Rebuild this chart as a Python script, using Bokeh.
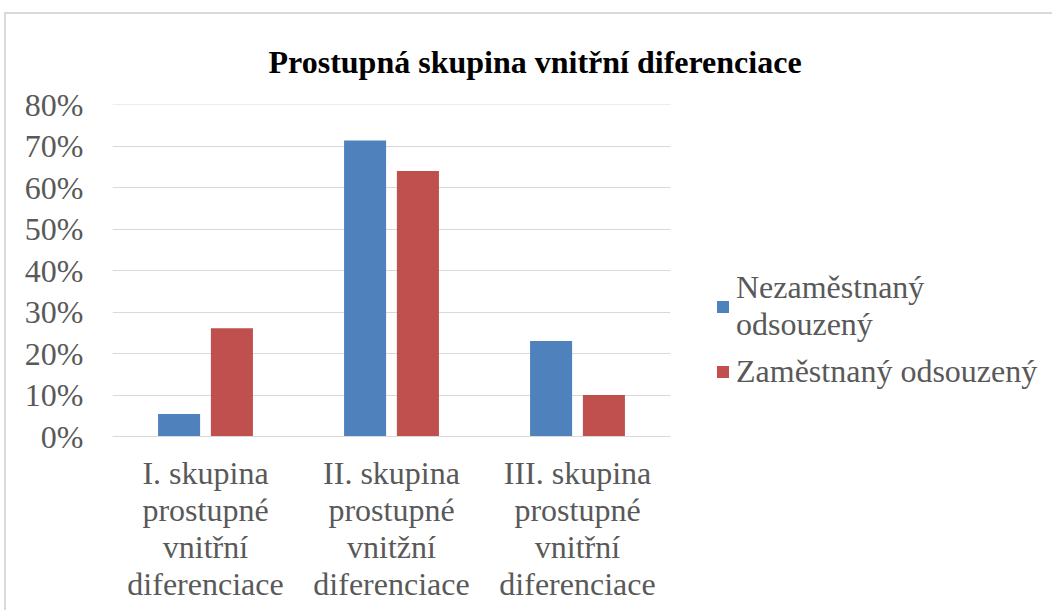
from bokeh.plotting import figure
from bokeh.models import ColumnDataSource, FactorRange, Range1d, NumeralTickFormatter, Legend, LegendItem, Title, FixedTicker
from bokeh.transform import dodge
from bokeh.embed import file_html
from bokeh.resources import INLINE

categories = [
    "I. skupina\nprostupné\nvnitřní\ndiferenciace",
    "II. skupina\nprostupné\nvnitžní\ndiferenciace",
    "III. skupina\nprostupné\nvnitřní\ndiferenciace",
]
series_names = ["Nezaměstnaný\nodsouzený", "Zaměstnaný odsouzený"]
nezamestnany = [0.054, 0.714, 0.230]
zamestnany = [0.261, 0.640, 0.100]
y_ticks = [0.0, 0.1, 0.2, 0.3, 0.4, 0.5, 0.6, 0.7, 0.8]
title_text = "Prostupná skupina vnitřní diferenciace"

FONT = "Liberation Serif"
GRAY = "#595959"
BLUE = "#4f81bd"
RED = "#c0504d"

src = ColumnDataSource(dict(cat=categories, a=nezamestnany, b=zamestnany))

p = figure(
    x_range=FactorRange(*categories, range_padding=0),
    y_range=Range1d(0, 0.8005),
    frame_width=558, frame_height=332,
    output_backend="svg", toolbar_location=None,
    min_border_left=106, min_border_right=382, min_border_top=90, min_border_bottom=174,
)
p.outline_line_color = None
p.styles = {"margin-left": "4px", "margin-top": "12px",
            "border-left": "2px solid #d9d9d9", "border-top": "2px solid #d9d9d9"}

t = Title(text=title_text, align="left", text_font=FONT, text_font_size="32px",
          text_font_style="bold", text_color="#000000", offset=156, standoff=50)
p.add_layout(t, "above")

r1 = p.vbar(x=dodge("cat", -0.142, range=p.x_range), top="a", width=0.226, source=src,
            fill_color=BLUE, line_color=None)
r2 = p.vbar(x=dodge("cat", 0.142, range=p.x_range), top="b", width=0.226, source=src,
            fill_color=RED, line_color=None)

p.yaxis.ticker = FixedTicker(ticks=y_ticks)
p.yaxis.formatter = NumeralTickFormatter(format="0%")
p.yaxis.axis_line_color = None
p.yaxis.major_tick_line_color = None
p.yaxis.minor_tick_line_color = None
p.yaxis.major_label_text_font = FONT
p.yaxis.major_label_text_font_size = "32px"
p.yaxis.major_label_text_color = GRAY
p.yaxis.major_label_standoff = 23

p.xaxis.axis_line_color = "#d9d9d9"
p.xaxis.major_tick_line_color = None
p.xaxis.minor_tick_line_color = None
p.xaxis.major_label_text_font = FONT
p.xaxis.major_label_text_font_size = "32px"
p.xaxis.major_label_text_line_height = 1.03
p.xaxis.major_label_text_color = GRAY
p.xaxis.major_label_standoff = 12
p.xaxis.major_label_orientation = "horizontal"

p.xgrid.grid_line_color = None
p.ygrid.grid_line_color = "#d9d9d9"
p.ygrid.grid_line_width = 1

legend = Legend(
    items=[LegendItem(label=series_names[0], renderers=[r1]),
           LegendItem(label=series_names[1], renderers=[r2])],
    location=(45, 46),
    label_text_font=FONT, label_text_font_size="32px", label_text_color=GRAY,
    label_text_line_height=1.15,
    glyph_width=15, glyph_height=15, label_standoff=6, spacing=10,
    padding=0, margin=0, border_line_color=None, background_fill_alpha=0,
)
p.add_layout(legend, "right")

open("out.html", "w").write(file_html(p, INLINE))
